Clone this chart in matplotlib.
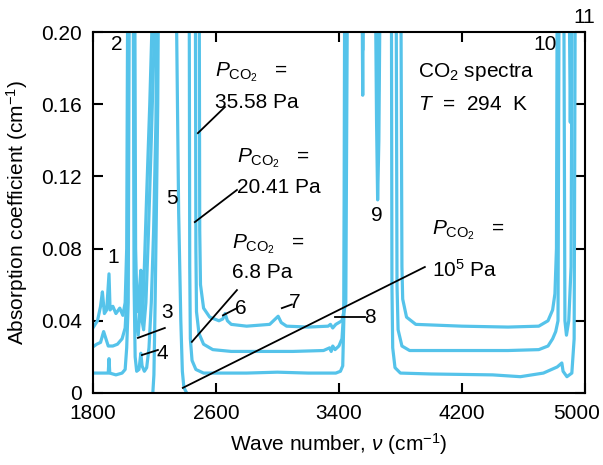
import matplotlib
matplotlib.use("Agg")
import matplotlib.pyplot as plt
import matplotlib.transforms as mtransforms

plt.rcParams['font.family'] = ['Liberation Sans', 'DejaVu Sans']
plt.rcParams['mathtext.fontset'] = 'custom'
plt.rcParams['mathtext.rm'] = 'Liberation Sans'
plt.rcParams['mathtext.it'] = 'Liberation Sans:italic'

# absorption spectra, wave number (cm-1) vs coefficient (cm-1); 0.3 = off scale
wn_p68 = [1800, 1850, 1900, 1905, 1910, 1950, 1990, 2010, 2020, 2030, 2040, 2060,
          2068, 2075, 2085, 2100, 2112, 2120, 2135, 2150, 2165, 2180, 2195, 2210,
          2225, 2425, 2430, 2434, 2445, 2470, 2520, 2600, 2800, 3000, 3200, 3380,
          3410, 3425, 3432, 3440, 3545, 3555, 3562, 3630, 3645, 3652, 3660, 3675,
          3740, 3745, 3750, 3765, 3800, 4000, 4400, 4580, 4730, 4775, 4820, 4850,
          4858, 4883, 4915, 4930, 4940, 5000]
k_p68 = [0.011, 0.011, 0.011, 0.019, 0.011, 0.010, 0.011, 0.013, 0.025, 0.05, 0.3, 0.3,
         0.06, 0.02, 0.012, 0.013, 0.022, 0.015, 0.012, 0.014, 0.025, 0.05, 0.09, 0.15,
         0.3, 0.3, 0.07, 0.03, 0.018, 0.013, 0.011, 0.011, 0.011, 0.0115, 0.011, 0.011,
         0.012, 0.015, 0.04, 0.3, 0.3, 0.165, 0.3, 0.3, 0.15, 0.107, 0.14, 0.3,
         0.3, 0.06, 0.025, 0.014, 0.011, 0.0105, 0.010, 0.009, 0.011, 0.0127, 0.0144, 0.0166,
         0.012, 0.009, 0.011, 0.03, 0.3, 0.3]

wn_p20 = [1800, 1825, 1850, 1870, 1885, 1900, 1930, 1960, 1990, 2010, 2025, 2035,
          2065, 2072, 2080, 2095, 2105, 2112, 2120, 2130, 2145, 2160, 2180, 2200,
          2210, 2465, 2470, 2474, 2490, 2520, 2580, 2700, 2900, 3100, 3300, 3340,
          3350, 3360, 3375, 3400, 3420, 3435, 3445, 3548, 3555, 3562, 3642, 3650,
          3656, 3665, 3770, 3778, 3785, 3810, 3860, 4200, 4500, 4700, 4760, 4790,
          4810, 4825, 4835, 4860, 4870, 4880, 4895, 4910, 4920, 5000]
k_p20 = [0.0255, 0.027, 0.028, 0.034, 0.030, 0.026, 0.026, 0.027, 0.030, 0.036, 0.06, 0.3,
         0.3, 0.07, 0.04, 0.032, 0.045, 0.06, 0.04, 0.035, 0.05, 0.085, 0.14, 0.2,
         0.3, 0.3, 0.08, 0.045, 0.033, 0.027, 0.024, 0.023, 0.023, 0.023, 0.0235, 0.025,
         0.023, 0.026, 0.024, 0.026, 0.03, 0.05, 0.3, 0.3, 0.19, 0.3, 0.3, 0.17,
         0.15, 0.3, 0.3, 0.06, 0.035, 0.026, 0.0235, 0.0235, 0.0235, 0.024, 0.026, 0.030,
         0.034, 0.04, 0.3, 0.3, 0.04, 0.032, 0.04, 0.07, 0.3, 0.3]

wn_p35 = [1800, 1830, 1850, 1862, 1875, 1890, 1905, 1912, 1930, 1950, 1975, 1995,
          2010, 2020, 2030, 2070, 2078, 2085, 2095, 2105, 2112, 2118, 2125, 2135,
          2150, 2170, 2190, 2200, 2490, 2495, 2500, 2520, 2560, 2620, 2645, 2660,
          2675, 2700, 2800, 2950, 3005, 3025, 3060, 3200, 3330, 3345, 3360, 3380,
          3420, 3445, 3460, 3800, 3810, 3815, 3840, 3900, 4200, 4500, 4700, 4760,
          4790, 4805, 4815, 4822, 4890, 4905, 4920, 5000]
k_p35 = [0.036, 0.040, 0.048, 0.056, 0.044, 0.046, 0.066, 0.046, 0.048, 0.044, 0.047, 0.043,
         0.05, 0.08, 0.3, 0.3, 0.08, 0.055, 0.045, 0.06, 0.068, 0.05, 0.045, 0.07,
         0.11, 0.16, 0.22, 0.3, 0.3, 0.09, 0.06, 0.047, 0.042, 0.040, 0.041, 0.044,
         0.040, 0.038, 0.037, 0.038, 0.0425, 0.039, 0.037, 0.0365, 0.037, 0.038, 0.036, 0.038,
         0.040, 0.05, 0.3, 0.3, 0.07, 0.052, 0.042, 0.038, 0.037, 0.0365, 0.037, 0.040,
         0.046, 0.055, 0.08, 0.3, 0.3, 0.15, 0.3, 0.3]

wn_p1e5 = [2190, 2197, 2205, 2213, 2222, 2232, 2335, 2345, 2358, 2372, 2382, 2392, 2410]
k_p1e5 = [0.0, 0.01, 0.05, 0.10, 0.16, 0.3, 0.3, 0.2, 0.1, 0.04, 0.012, 0.003, 0.0]

x_ticks = [1800, 2600, 3400, 4200, 5000]
y_ticks = [0, 0.04, 0.08, 0.12, 0.16, 0.20]
y_ticklabels = ['0', '0.04', '0.08', '0.12', '0.16', '0.20']

blue = '#55c3ea'
fs = 15

fig = plt.figure(figsize=(6.03, 4.65), dpi=100)
ax = fig.add_axes([0.154, 0.155, 0.816, 0.776])

for wn, k in [(wn_p68, k_p68), (wn_p20, k_p20), (wn_p35, k_p35), (wn_p1e5, k_p1e5)]:
    ax.plot(wn, k, color=blue, lw=2.3, solid_joinstyle='round')

ax.set_xlim(1800, 5000)
ax.set_ylim(0, 0.20)
ax.set_xticks(x_ticks)
ax.set_yticks(y_ticks)
ax.set_yticklabels(y_ticklabels)
ax.tick_params(direction='in', length=7, width=1.5, top=True, right=True,
               labelsize=fs, pad=8)
for s in ax.spines.values():
    s.set_linewidth(1.5)

# pull the last x tick label in so it stays on the canvas
last = ax.get_xticklabels()[-1]
last.set_transform(last.get_transform() +
                   mtransforms.ScaledTranslation(-8 / 100, 0, fig.dpi_scale_trans))

ax.set_xlabel(r'Wave number, $\nu$ (cm$^{-1}$)', fontsize=fs, labelpad=6)
ax.set_ylabel(r'Absorption coefficient (cm$^{-1}$)', fontsize=fs, labelpad=8)

pco2 = r'$P_{\mathrm{CO}_2}$   ='
ax.text(2593, 0.178, pco2, fontsize=fs, va='center')
ax.text(2593, 0.161, '35.58 Pa', fontsize=fs, va='center')
ax.text(2737, 0.130, pco2, fontsize=fs, va='center')
ax.text(2737, 0.1136, '20.41 Pa', fontsize=fs, va='center')
ax.text(2704, 0.0825, pco2, fontsize=fs, va='center')
ax.text(2704, 0.0665, '6.8 Pa', fontsize=fs, va='center')
ax.text(4005, 0.090, pco2, fontsize=fs, va='center')
ax.text(4005, 0.068, r'10$^5$ Pa', fontsize=fs, va='center')
ax.text(3914, 0.178, r'CO$_2$ spectra', fontsize=fs, va='center')
ax.text(3914, 0.1596, r'$T$  =  294  K', fontsize=fs, va='center')

# band numbers
for lab, x, y in [('1', 1930, 0.0748), ('2', 1956, 0.193), ('3', 2285, 0.0445),
                  ('4', 2250, 0.022), ('5', 2314, 0.108), ('6', 2760, 0.047),
                  ('7', 3110, 0.050), ('8', 3600, 0.042), ('9', 3647, 0.0986),
                  ('10', 4740, 0.193), ('11', 4994, 0.208)]:
    ax.text(x, y, lab, fontsize=fs, ha='center', va='center', clip_on=False)

# pointer lines
for x0, y0, x1, y1 in [(2659, 0.1585, 2483, 0.144), (2737, 0.1125, 2463, 0.0947),
                       (2737, 0.057, 2444, 0.0283), (3959, 0.0698, 2385, 0.0028),
                       (2268, 0.036, 2093, 0.0305), (2223, 0.0238, 2119, 0.021),
                       (2737, 0.047, 2646, 0.043), (3094, 0.049, 3029, 0.047),
                       (3569, 0.042, 3374, 0.042)]:
    ax.plot([x0, x1], [y0, y1], color='black', lw=1.3)

fig.savefig('out.png', dpi=100)
